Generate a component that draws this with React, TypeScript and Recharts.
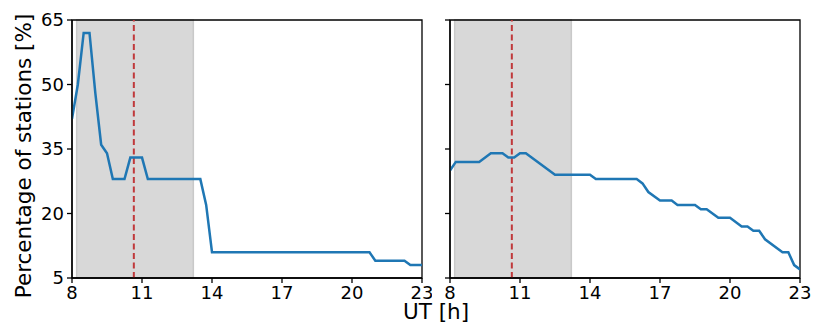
import { LineChart, Line, XAxis, YAxis, ReferenceArea, ReferenceLine } from "recharts";

const xTicks = [8, 11, 14, 17, 20, 23];
const yTicks = [5, 20, 35, 50, 65];

// left panel
const leftTimes = [8, 8.25, 8.5, 8.75, 9, 9.25, 9.5, 9.75, 10.25, 10.5, 11, 11.25, 13.5, 13.75, 14, 20.75, 21, 22.25, 22.5, 23];
const leftPct = [42, 50, 62, 62, 48, 36, 34, 28, 28, 33, 33, 28, 28, 22, 11, 11, 9, 9, 8, 8];

// right panel
const rightTimes = [8, 8.25, 9.25, 9.75, 10.25, 10.5, 10.75, 11, 11.25, 12.5, 14, 14.25, 16, 16.25, 16.5, 17, 17.5, 17.75, 18.5, 18.75, 19, 19.5, 20, 20.5, 20.75, 21, 21.25, 21.5, 22.25, 22.5, 22.75, 23];
const rightPct = [30, 32, 32, 34, 34, 33, 33, 34, 34, 29, 29, 28, 28, 27, 25, 23, 23, 22, 22, 21, 21, 19, 19, 17, 17, 16, 16, 14, 11, 11, 8, 7];

const shadeStart = 8.2;
const shadeEnd = 13.2;
const eventTime = 10.65;

const FONT = "'DejaVu Sans', sans-serif";
const axisStyle = { stroke: "#000", strokeWidth: 1.3 };

interface PanelProps {
  times: number[];
  pct: number[];
  showYLabels: boolean;
  width: number;
  yAxisWidth: number;
  marginRight: number;
}

const Panel = ({ times, pct, showYLabels, width, yAxisWidth, marginRight }: PanelProps) => {
  const data = times.map((t, i) => ({ t, v: pct[i] }));
  return (
    <LineChart
      width={width}
      height={327}
      data={data}
      margin={{ top: 20, right: marginRight, left: 0, bottom: 19 }}
    >
      <XAxis
        dataKey="t"
        type="number"
        domain={[8, 23]}
        ticks={xTicks}
        interval={0}
        allowDataOverflow
        height={30}
        tickSize={5}
        tickMargin={3}
        axisLine={axisStyle}
        tickLine={axisStyle}
        tick={{ fill: "#000", fontSize: 18, fontFamily: FONT }}
      />
      <YAxis
        type="number"
        domain={[5, 65]}
        ticks={yTicks}
        interval={0}
        allowDataOverflow
        width={yAxisWidth}
        tickSize={5}
        tickMargin={3}
        axisLine={axisStyle}
        tickLine={axisStyle}
        tickFormatter={(v: number) => (showYLabels ? String(v) : "")}
        tick={{ fill: "#000", fontSize: 18, fontFamily: FONT }}
        label={
          showYLabels
            ? {
                content: () => (
                  <text
                    x={31}
                    y={156}
                    transform="rotate(-90 31 156)"
                    textAnchor="middle"
                    fontSize={21.5}
                    fontFamily={FONT}
                    fill="#000"
                  >
                    Percentage of stations [%]
                  </text>
                ),
              }
            : undefined
        }
      />
      <ReferenceArea
        x1={shadeStart}
        x2={shadeEnd}
        y1={5}
        y2={65}
        fill="#d8d8d8"
        fillOpacity={1}
        stroke="#c9c9c9"
        strokeWidth={1.5}
      />
      <ReferenceLine x={eventTime} stroke="#c0393b" strokeWidth={2} strokeDasharray="6 3.5" />
      <Line
        type="linear"
        dataKey="v"
        stroke="#1f77b4"
        strokeWidth={2.5}
        dot={false}
        isAnimationActive={false}
      />
      {/* frame: top and right spines */}
      <ReferenceArea x1={8} x2={23} y1={5} y2={65} fill="none" stroke="#000" strokeWidth={1.3} />
    </LineChart>
  );
};

export default function App() {
  return (
    <div
      style={{
        position: "absolute",
        left: 0,
        top: 0,
        width: 813,
        height: 327,
        background: "#fff",
        fontFamily: FONT,
      }}
    >
      <div style={{ position: "absolute", left: 0, top: 0 }}>
        <Panel times={leftTimes} pct={leftPct} showYLabels width={432} yAxisWidth={72} marginRight={10} />
      </div>
      <div style={{ position: "absolute", left: 430, top: 0 }}>
        <Panel times={rightTimes} pct={rightPct} showYLabels={false} width={383} yAxisWidth={20} marginRight={13} />
      </div>
      <div
        style={{
          position: "absolute",
          left: 386,
          top: 303.5,
          width: 100,
          textAlign: "center",
          fontSize: 21.5,
          lineHeight: "16px",
          color: "#000",
        }}
      >
        UT [h]
      </div>
    </div>
  );
}
